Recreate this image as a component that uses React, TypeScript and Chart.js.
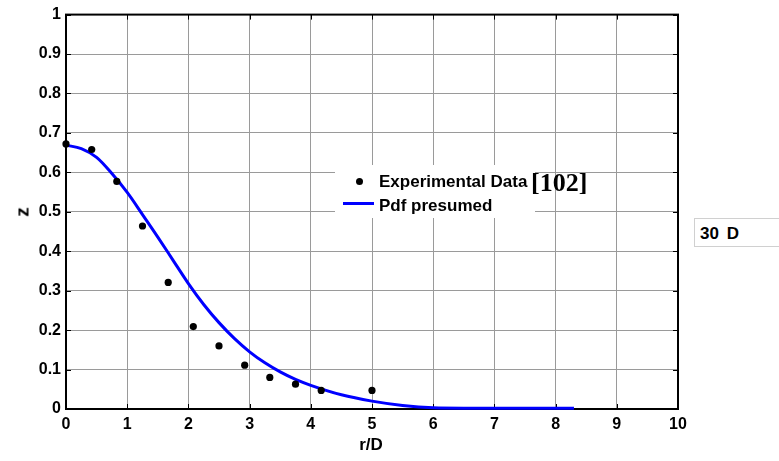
import React, { useEffect, useRef } from 'react';
import { Chart, registerables } from 'chart.js';

Chart.register(...registerables);

// Measured mixture fraction along the radius (r/D) at 30 D downstream
const radiusRatio = [0, 0.42, 0.83, 1.25, 1.67, 2.08, 2.5, 2.92, 3.33, 3.75, 4.17, 5.0];
const measuredZ = [0.672, 0.658, 0.577, 0.464, 0.321, 0.209, 0.16, 0.111, 0.08, 0.063, 0.047, 0.047];

// Presumed-PDF model prediction
const pdfR = [0, 0.25, 0.5, 0.75, 1, 1.25, 1.5, 1.75, 2, 2.25, 2.5, 2.75, 3, 3.25, 3.5, 3.75, 4, 4.5, 5, 5.5, 6, 6.5, 7, 7.5, 8, 8.3];
const pdfZ = [0.669, 0.66, 0.638, 0.597, 0.549, 0.493, 0.436, 0.377, 0.318, 0.265, 0.219, 0.179, 0.145, 0.117, 0.094, 0.075, 0.06, 0.036, 0.02, 0.009, 0.003, 0.002, 0.002, 0.002, 0.002, 0.002];

const xTickLabels = ['0', '1', '2', '3', '4', '5', '6', '7', '8', '9', '10'];
const yTickLabels = ['0', '0.1', '0.2', '0.3', '0.4', '0.5', '0.6', '0.7', '0.8', '0.9', '1'];

const FONT = "'Liberation Sans', Arial, Helvetica, sans-serif";
const SERIF = "'Liberation Serif', 'Times New Roman', serif";

// Black axes box with short inward tick marks on all four sides
const axesBox = {
  id: 'axesBox',
  beforeDatasetsDraw(chart: any) {
    const { ctx, chartArea: a, scales } = chart;
    const tick = 5;
    ctx.save();
    ctx.strokeStyle = '#000';
    ctx.lineWidth = 1;
    ctx.beginPath();
    scales.x.ticks.forEach((t: any) => {
      const px = Math.round(scales.x.getPixelForValue(t.value)) + 0.5;
      ctx.moveTo(px, a.bottom);
      ctx.lineTo(px, a.bottom - tick);
      ctx.moveTo(px, a.top);
      ctx.lineTo(px, a.top + tick);
    });
    scales.y.ticks.forEach((t: any) => {
      const py = Math.round(scales.y.getPixelForValue(t.value)) + 0.5;
      ctx.moveTo(a.left, py);
      ctx.lineTo(a.left + tick, py);
      ctx.moveTo(a.right, py);
      ctx.lineTo(a.right - tick, py);
    });
    ctx.stroke();
    ctx.lineWidth = 2;
    ctx.strokeRect(a.left, a.top, a.right - a.left, a.bottom - a.top);
    ctx.restore();
  },
};

export default function App() {
  const canvasRef = useRef<HTMLCanvasElement>(null);

  useEffect(() => {
    const canvas = canvasRef.current;
    if (!canvas) return;
    const chart = new Chart(canvas, {
      type: 'scatter',
      data: {
        datasets: [
          {
            label: 'Pdf presumed',
            type: 'line',
            data: pdfR.map((r, i) => ({ x: r, y: pdfZ[i] })),
            borderColor: '#0000ff',
            borderWidth: 3,
            pointRadius: 0,
            cubicInterpolationMode: 'monotone',
            fill: false,
            clip: false as any,
            order: 2,
          },
          {
            label: 'Experimental Data',
            data: radiusRatio.map((r, i) => ({ x: r, y: measuredZ[i] })),
            backgroundColor: '#000',
            borderColor: '#000',
            pointRadius: 3.6,
            pointBorderWidth: 0,
            clip: false as any,
            order: 1,
          },
        ],
      },
      options: {
        responsive: false,
        animation: false,
        devicePixelRatio: 1,
        layout: { padding: { left: 0, top: 13, right: 101, bottom: 0 } },
        plugins: { legend: { display: false }, tooltip: { enabled: false } },
        scales: {
          x: {
            type: 'linear',
            min: 0,
            max: 10,
            border: { display: false },
            grid: { color: '#9a9a9a', lineWidth: 1, drawTicks: false },
            ticks: {
              stepSize: 1,
              padding: 6,
              color: '#000',
              font: { family: FONT, size: 16, weight: 'bold' },
              callback: (_v: any, i: number) => xTickLabels[i],
            },
            afterFit: (s: any) => {
              s.height = 52;
            },
          },
          y: {
            type: 'linear',
            min: 0,
            max: 1,
            border: { display: false },
            grid: { color: '#9a9a9a', lineWidth: 1, drawTicks: false },
            ticks: {
              stepSize: 0.1,
              padding: 5,
              color: '#000',
              font: { family: FONT, size: 16, weight: 'bold' },
              callback: (_v: any, i: number) => yTickLabels[i],
            },
            afterFit: (s: any) => {
              s.width = 66;
            },
          },
        },
      },
      plugins: [axesBox],
    });
    return () => chart.destroy();
  }, []);

  const bold = { fontFamily: FONT, fontWeight: 700 as const, color: '#000', lineHeight: 1, whiteSpace: 'nowrap' as const };

  return (
    <div style={{ position: 'fixed', left: 0, top: 0, width: 779, height: 461, background: '#fff', overflow: 'hidden' }}>
      <canvas ref={canvasRef} width={779} height={461} style={{ position: 'absolute', left: 0, top: 0 }} />

      {/* axis titles */}
      <div style={{ ...bold, position: 'absolute', left: 22, top: 212, fontSize: 19, transform: 'translate(-50%, -50%) rotate(-90deg)' }}>z</div>
      <div style={{ ...bold, position: 'absolute', left: 371, top: 444, fontSize: 17, transform: 'translate(-50%, -50%)' }}>r/D</div>

      {/* legend */}
      <div style={{ position: 'absolute', left: 335, top: 165, width: 200, height: 53, background: '#fff' }} />
      <div style={{ position: 'absolute', left: 355.5, top: 177.5, width: 7, height: 7, borderRadius: '50%', background: '#000' }} />
      <div style={{ position: 'absolute', left: 343, top: 202, width: 31, height: 3, background: '#0000ff' }} />
      <div style={{ ...bold, position: 'absolute', left: 379, top: 172.7, fontSize: 17 }}>Experimental Data</div>
      <div style={{ ...bold, position: 'absolute', left: 379, top: 196.7, fontSize: 17 }}>Pdf presumed</div>
      <div style={{ position: 'absolute', left: 531, top: 170, fontFamily: SERIF, fontWeight: 700, fontSize: 26, lineHeight: 1, color: '#000', whiteSpace: 'nowrap' }}>[102]</div>

      {/* station label */}
      <div style={{ position: 'absolute', left: 694, top: 218, width: 100, height: 29, border: '1px solid #d0d0d0', background: '#fff', boxSizing: 'border-box' }} />
      <div style={{ ...bold, position: 'absolute', left: 700, top: 224.7, fontSize: 17, wordSpacing: 3 }}>30 D</div>
    </div>
  );
}
